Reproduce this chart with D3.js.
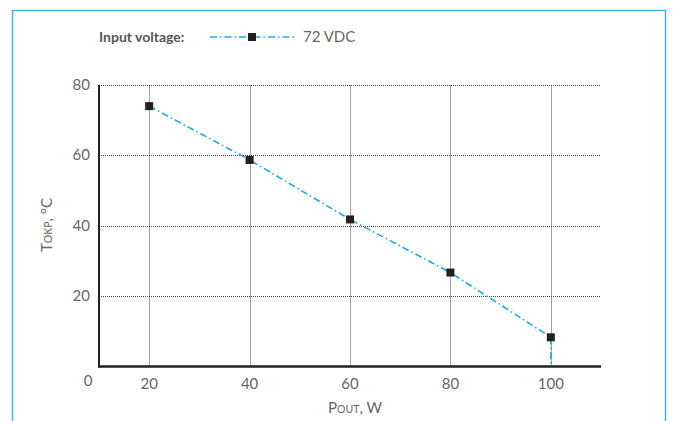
<!DOCTYPE html>
<html><head><meta charset="utf-8">
<script src="https://cdn.jsdelivr.net/npm/d3@7"></script>
<style>
body{margin:0;background:#fff;}
svg{display:block;}
text{font-family:"Lato","Roboto",sans-serif;fill:#666;}
</style></head>
<body>
<script>
const powerW = [20, 40, 60, 80, 100];
const tempC = [74.0, 58.7, 41.8, 26.7, 8.3];
const dropTo = 0;
const xTicks = [20, 40, 60, 80, 100];
const yTicks = [20, 40, 60, 80];
const seriesName = "72 VDC";
const legendTitle = "Input voltage:";

const W = 676, H = 421;
const svg = d3.select("body").append("svg").attr("width", W).attr("height", H);

// frame
svg.append("path").attr("d", "M12.5,430 V10.5 H665.5 V430")
  .attr("fill", "none").attr("stroke", "#3db8ec").attr("stroke-width", 1.5);

const x = d3.scaleLinear().domain([10, 110]).range([99, 601]);
const y = d3.scaleLinear().domain([0, 80]).range([366.5, 85]);

const lineColor = "#17aee6";
const dashPat = "7,3,1.5,3";

// grid
const g = svg.append("g");
g.selectAll(".hg").data(yTicks).join("line")
  .attr("x1", x(10)).attr("x2", x(110))
  .attr("y1", d => Math.round(y(d)) + 0.5).attr("y2", d => Math.round(y(d)) + 0.5)
  .attr("stroke", "#444").attr("stroke-width", 1).attr("stroke-dasharray", "1,1");
g.selectAll(".vg").data(xTicks).join("line")
  .attr("y1", y(0)).attr("y2", y(80))
  .attr("x1", d => Math.round(x(d)) + 0.5).attr("x2", d => Math.round(x(d)) + 0.5)
  .attr("stroke", "#444").attr("stroke-width", 1).attr("stroke-dasharray", "1,1");

// axes lines
svg.append("line").attr("x1", x(10)).attr("x2", x(10)).attr("y1", y(80)).attr("y2", y(0) + 1)
  .attr("stroke", "#222").attr("stroke-width", 2);
svg.append("line").attr("x1", x(10) - 1).attr("x2", x(110)).attr("y1", y(0)).attr("y2", y(0))
  .attr("stroke", "#222").attr("stroke-width", 2.5);

// tick labels
svg.selectAll(".xt").data(xTicks).join("text")
  .attr("x", d => x(d)).attr("y", 389).attr("text-anchor", "middle")
  .attr("font-size", 15).text(d => d);
svg.selectAll(".yt").data(yTicks).join("text")
  .attr("x", 90).attr("y", d => y(d) + 5).attr("text-anchor", "end")
  .attr("font-size", 15).text(d => d);
svg.append("text").attr("x", 88).attr("y", 386).attr("text-anchor", "middle")
  .attr("font-size", 15).text(0);

// axis titles
const xt = svg.append("text").attr("x", 355).attr("y", 413).attr("text-anchor", "middle").attr("font-size", 15);
xt.append("tspan").text("P");
xt.append("tspan").attr("font-size", 10.5).text("OUT");
xt.append("tspan").text(", W");

const yt = svg.append("text").attr("transform", "translate(52,225) rotate(-90)").attr("text-anchor", "middle").attr("font-size", 15);
yt.append("tspan").text("T");
yt.append("tspan").attr("font-size", 10.5).text("OKP");
yt.append("tspan").text(", °C");

// series
const pts = powerW.map((p, i) => [p, tempC[i]]);
const linePts = pts.concat([[powerW[powerW.length - 1], dropTo]]);
svg.append("path").datum(linePts)
  .attr("d", d3.line().x(d => x(d[0])).y(d => y(d[1])))
  .attr("fill", "none").attr("stroke", lineColor).attr("stroke-width", 1.6)
  .attr("stroke-dasharray", dashPat);
svg.selectAll(".mk").data(pts).join("rect")
  .attr("x", d => x(d[0]) - 4).attr("y", d => y(d[1]) - 4)
  .attr("width", 8).attr("height", 8).attr("fill", "#231f20");

// legend
svg.append("text").attr("x", 99).attr("y", 42).attr("font-size", 14).attr("font-weight", "bold")
  .style("fill", "#555").text(legendTitle);
svg.append("line").attr("x1", 210).attr("x2", 294).attr("y1", 37).attr("y2", 37)
  .attr("stroke", lineColor).attr("stroke-width", 1.6).attr("stroke-dasharray", dashPat);
svg.append("rect").attr("x", 248).attr("y", 33).attr("width", 8).attr("height", 8).attr("fill", "#231f20");
svg.append("text").attr("x", 303).attr("y", 42).attr("font-size", 15).text(seriesName);
</script>
</body></html>
